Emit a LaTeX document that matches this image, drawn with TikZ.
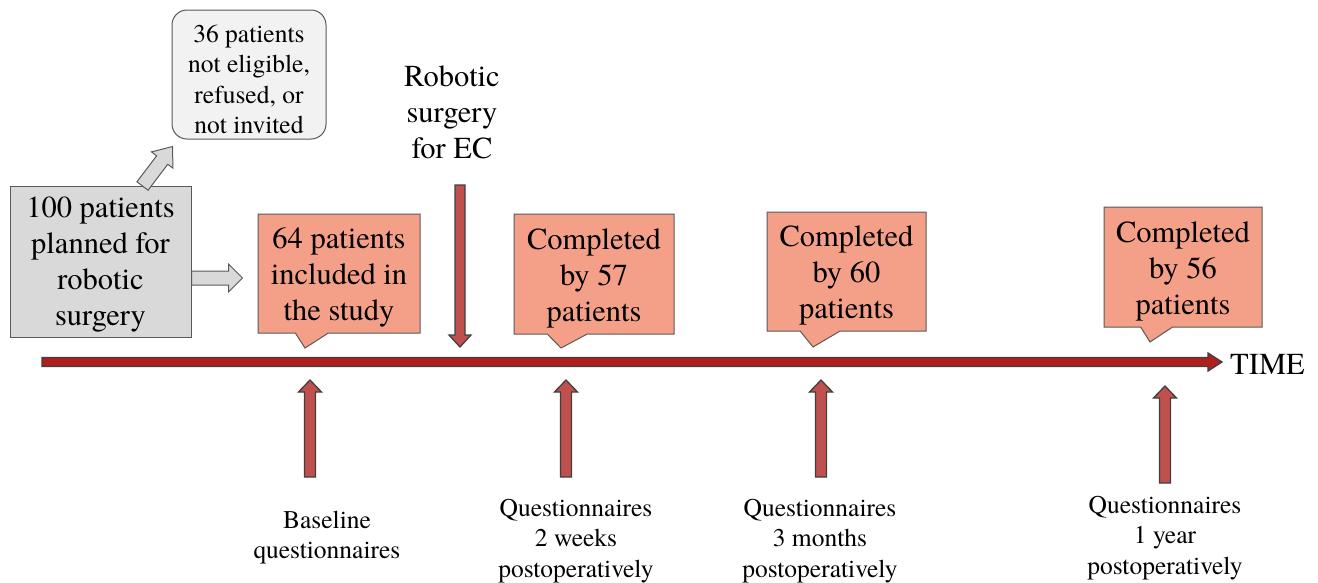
\documentclass[tikz,border=0pt]{standalone}
\usepackage{fontspec}
\setmainfont{texgyretermes}[Extension=.otf, UprightFont=*-regular, BoldFont=*-bold]
\newfontfamily\tnr{texgyretermes}[Extension=.otf, UprightFont=*-regular]
\usetikzlibrary{calc,shapes.callouts}
\definecolor{salmon}{HTML}{F4A088}
\definecolor{edgegray}{HTML}{595959}
\definecolor{boxgray}{HTML}{D9D9D9}
\definecolor{lightgray}{HTML}{F2F2F2}
\definecolor{arrowred}{HTML}{C0504D}
\definecolor{linered}{HTML}{B01E1E}
\newcommand\blockarrow[6]{%
  \path[#1] let \p1=(#2), \p2=(#3), \n1={atan2(\y2-\y1,\x2-\x1)}, \n2={veclen(\x2-\x1,\y2-\y1)} in
  [shift={(\p1)}, rotate=\n1] (0,-#4) -- ({\n2-#6},-#4) -- ({\n2-#6},-#5) -- (\n2,0) -- ({\n2-#6},#5) -- ({\n2-#6},#4) -- (0,#4) -- cycle;}
\newcommand\lowstrut[1]{\rule{0pt}{#1em}}
\tikzset{
  bigtext/.style={font=\tnr\fontsize{30.5}{36}\selectfont, align=center},
  smalltext/.style={font=\tnr\fontsize{25.5}{30.5}\selectfont, align=center},
  callbox/.style={rectangle callout, fill=salmon, draw=edgegray, line width=1pt, inner sep=0pt, bigtext},
  greyarrow/.style={fill=boxgray, draw=edgegray, line width=1pt},
  redarrow/.style={fill=arrowred, draw=black!75, line width=1.3pt},
  timearrow/.style={fill=linered, draw=black!75, line width=1.3pt},
}
\begin{document}
\begin{tikzpicture}[x=1pt,y=-1pt]
\useasboundingbox (0,0) rectangle (1318,582);
% boxes
\node[draw=edgegray, fill=boxgray, line width=1pt, minimum width=181pt, minimum height=151pt, inner sep=0pt, bigtext] (g) at (100.5,261.5) {\lowstrut{0.85}100 patients\\planned for\\robotic\\surgery};
\node[draw=edgegray, fill=lightgray, line width=1pt, rounded corners=15pt, minimum width=154pt, minimum height=129pt, inner sep=0pt, smalltext] (n36) at (249,74.5) {\lowstrut{1.06}36 patients\\not eligible,\\refused, or\\not invited};
\node[callbox, minimum width=162pt, minimum height=119pt, callout absolute pointer={(305,348)}, callout pointer width=33pt] (b1) at (339,273.5) {\lowstrut{0.94}64 patients\\included in\\the study};
\node[callbox, minimum width=160pt, minimum height=120pt, callout absolute pointer={(561,348)}, callout pointer width=40pt] (b2) at (594,274) {\lowstrut{0.94}Completed\\by 57\\patients};
\node[callbox, minimum width=159pt, minimum height=119pt, callout absolute pointer={(813,347)}, callout pointer width=40pt] (b3) at (846.5,271.5) {\lowstrut{0.94}Completed\\by 60\\patients};
\node[callbox, minimum width=158pt, minimum height=120pt, callout absolute pointer={(1150,342)}, callout pointer width=32pt] (b4) at (1183,267) {\lowstrut{0.94}Completed\\by 56\\patients};
% texts
\node[bigtext] (rob) at (452,112.5) {Robotic\\surgery\\for EC};
\node[bigtext, anchor=west, inner sep=0pt] (time) at (1230,364) {TIME};
\node[smalltext] (q0) at (327,537.5) {Baseline\\questionnaires};
\node[smalltext] (q1) at (576,541) {Questionnaires\\2 weeks\\postoperatively};
\node[smalltext] (q2) at (820,541) {Questionnaires\\3 months\\postoperatively};
\node[smalltext] (q3) at (1165,538) {Questionnaires\\1 year\\postoperatively};
% coordinates
\coordinate (tlstart) at (42,362);
\coordinate (tlend) at (1222,362);
\coordinate (dstart) at (460,185);
\coordinate (dend) at (460,347);
\coordinate (u0) at (310,380);
\coordinate (u1) at (566,380);
\coordinate (u2) at (821,380);
\coordinate (u3) at (1165,386);
\coordinate (v0) at (310,477);
\coordinate (v1) at (566,477);
\coordinate (v2) at (821,477);
\coordinate (v3) at (1165,483);
% grey arrows
\blockarrow{greyarrow}{$(g.north)+(42,0.5)$}{$(n36.south west)+(1,7)$}{7}{13.5}{17}
\blockarrow{greyarrow}{$(g.east)+(0,16.5)$}{$(b1.west)+(-15,4.5)$}{7}{14}{14}
% timeline
\blockarrow{timearrow}{tlstart}{tlend}{4.5}{9}{14}
% red arrows
\blockarrow{redarrow}{dstart}{dend}{5}{11}{12}
\blockarrow{redarrow}{v0}{u0}{5.5}{11.5}{12}
\blockarrow{redarrow}{v1}{u1}{5.5}{11.5}{12}
\blockarrow{redarrow}{v2}{u2}{5.5}{11.5}{12}
\blockarrow{redarrow}{v3}{u3}{5.5}{11.5}{12}
\end{tikzpicture}
\end{document}
